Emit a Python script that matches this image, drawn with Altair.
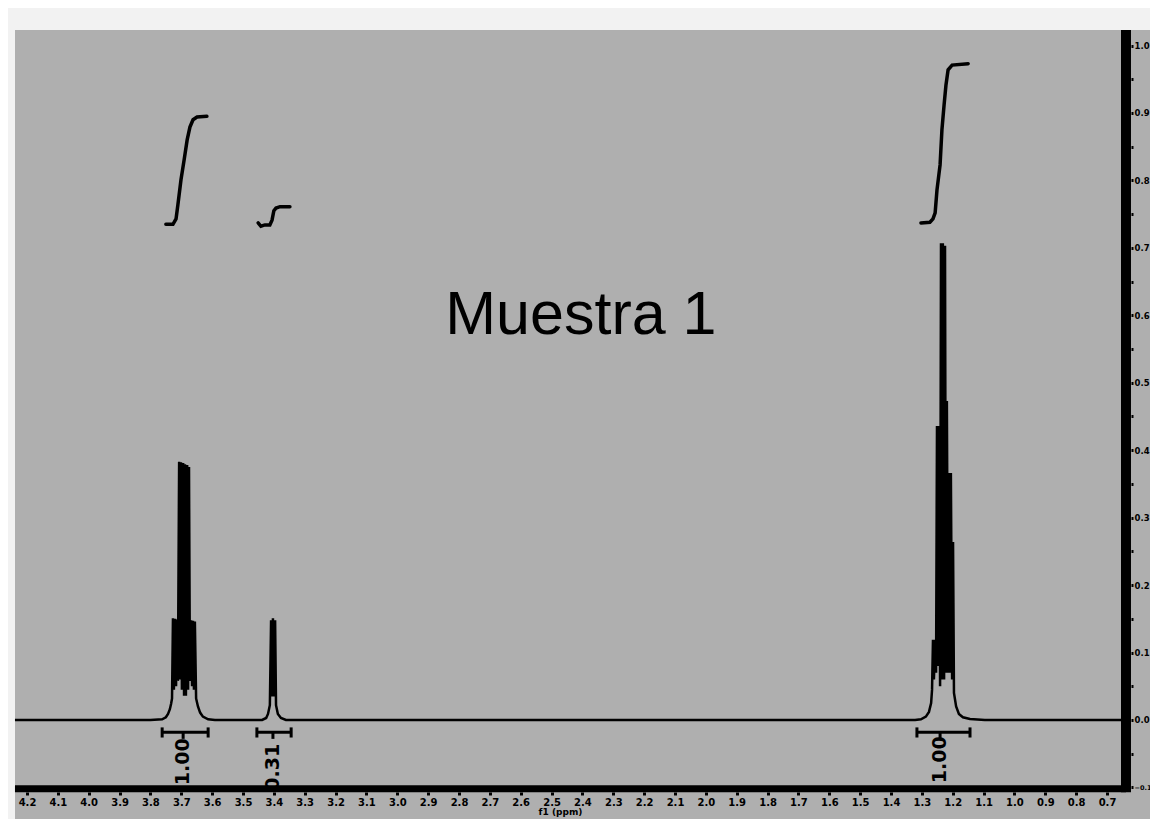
import altair as alt
import pandas as pd

# ---------------- data ----------------
# 1H spectrum trace: chemical shift (ppm) and intensity
spec_ppm = [4.239, 3.800, 3.762, 3.750, 3.743, 3.737, 3.733,
            3.730, 3.727, 3.724, 3.720, 3.717, 3.714, 3.711, 3.707, 3.704, 3.701,
            3.698, 3.694, 3.691, 3.688, 3.685, 3.681, 3.678, 3.675, 3.672, 3.668,
            3.665, 3.662, 3.659, 3.656, 3.652,
            3.646, 3.639, 3.630, 3.613, 3.591,
            3.438, 3.425, 3.419, 3.413, 3.409, 3.406, 3.403, 3.400, 3.396, 3.393,
            3.387, 3.377, 3.361,
            1.322, 1.303, 1.287, 1.277, 1.270, 1.267, 1.264, 1.261, 1.257, 1.254,
            1.251, 1.248, 1.244, 1.241, 1.238, 1.235, 1.232, 1.228, 1.225, 1.222,
            1.219, 1.215, 1.212, 1.209, 1.206, 1.202, 1.199, 1.196, 1.189, 1.180,
            1.167, 1.144, 1.096, 0.640]
spec_int = [0.0, 0.0, 0.001, 0.004, 0.009, 0.016, 0.024,
            0.032, 0.151, 0.045, 0.150, 0.050, 0.149, 0.058, 0.383, 0.060, 0.382,
            0.045, 0.381, 0.036, 0.379, 0.036, 0.378, 0.045, 0.375, 0.058, 0.148,
            0.050, 0.147, 0.045, 0.146, 0.032,
            0.020, 0.011, 0.005, 0.001, 0.0,
            0.0, 0.003, 0.009, 0.022, 0.148, 0.035, 0.151, 0.035, 0.148, 0.022,
            0.009, 0.003, 0.0,
            0.0, 0.001, 0.005, 0.012, 0.025, 0.045, 0.119, 0.060, 0.119, 0.070,
            0.436, 0.080, 0.436, 0.050, 0.707, 0.060, 0.707, 0.060, 0.703, 0.070,
            0.473, 0.070, 0.366, 0.070, 0.366, 0.060, 0.264, 0.040, 0.020, 0.009,
            0.004, 0.0015, 0.0, 0.0]

# integral curves
integral1_ppm = [3.750, 3.727, 3.717, 3.711, 3.701, 3.691, 3.681, 3.672, 3.662, 3.649, 3.617]
integral1_int = [0.735, 0.735, 0.743, 0.764, 0.801, 0.830, 0.860, 0.879, 0.890, 0.894, 0.895]
integral2_ppm = [3.451, 3.442, 3.429, 3.413, 3.406, 3.400, 3.393, 3.380, 3.348]
integral2_int = [0.737, 0.732, 0.734, 0.734, 0.741, 0.755, 0.759, 0.761, 0.761]
integral3_ppm = [1.303, 1.274, 1.264, 1.257, 1.251, 1.241, 1.235, 1.228, 1.222, 1.215, 1.202, 1.150]
integral3_int = [0.737, 0.738, 0.743, 0.752, 0.786, 0.823, 0.875, 0.912, 0.941, 0.964, 0.971, 0.973]

# integration regions and values
int_labels = ["1.00", "0.31", "1.00"]
int_start = [3.762, 3.455, 1.316]
int_end = [3.613, 3.344, 1.144]
int_center = [3.694, 3.403, 1.241]
int_label_y = [-0.062, -0.070, -0.059]

# axis tick labels
x_ticks = [4.2, 4.1, 4.0, 3.9, 3.8, 3.7, 3.6, 3.5, 3.4, 3.3, 3.2, 3.1, 3.0,
           2.9, 2.8, 2.7, 2.6, 2.5, 2.4, 2.3, 2.2, 2.1, 2.0, 1.9, 1.8, 1.7,
           1.6, 1.5, 1.4, 1.3, 1.2, 1.1, 1.0, 0.9, 0.8, 0.7]
y_ticks = [1.0, 0.95, 0.9, 0.85, 0.8, 0.75, 0.7, 0.65, 0.6, 0.55, 0.5, 0.45,
           0.4, 0.35, 0.3, 0.25, 0.2, 0.15, 0.1, 0.05, 0.0, -0.05, -0.1]

title_text = "Muestra 1"
x_title = "f1 (ppm)"

# ---------------- tables ----------------
df_spec = pd.DataFrame({"ppm": spec_ppm, "intensity": spec_int,
                        "idx": list(range(len(spec_ppm)))})

rows = []
for g, (xs_, ys_) in enumerate([(integral1_ppm, integral1_int),
                                (integral2_ppm, integral2_int),
                                (integral3_ppm, integral3_int)]):
    for i, (a, b) in enumerate(zip(xs_, ys_)):
        rows.append({"ppm": a, "intensity": b, "group": g, "idx": i})
df_integ = pd.DataFrame(rows)

df_reg = pd.DataFrame({"start": int_start, "end": int_end, "center": int_center,
                       "label": int_labels, "ly": int_label_y})
df_reg["bar_y"] = -0.018
df_reg["stem_lo"] = -0.028
df_caps = pd.DataFrame({"ppm": int_start + int_end})
df_caps["lo"] = -0.026
df_caps["hi"] = -0.011

df_title = pd.DataFrame({"ppm": [2.405], "intensity": [0.572], "t": [title_text]})

X_AXIS_LEVEL = -0.102
Y_AXIS_POS = 0.6385
df_xaxis = pd.DataFrame({"a": [4.239], "b": [Y_AXIS_POS], "y": [X_AXIS_LEVEL]})
df_yaxis = pd.DataFrame({"x": [Y_AXIS_POS], "lo": [-0.107], "hi": [1.023]})

# ---------------- scales / axes ----------------
xs = alt.Scale(domain=[0.5607, 4.2389], reverse=True, nice=False, zero=False)
ys = alt.Scale(domain=[-0.1468, 1.0230], nice=False, zero=False)

xaxis = alt.Axis(values=x_ticks, format=".1f", orient="bottom", offset=-27,
                 domain=False, grid=False, tickSize=3, tickWidth=3, tickColor="black",
                 labelColor="black", labelFont="DejaVu Sans", labelFontWeight="bold",
                 labelFontSize=10, labelPadding=2, labelFlush=False, labelOverlap=False,
                 title=x_title, titleFont="DejaVu Sans", titleFontSize=9,
                 titleFontWeight="bold", titleColor="black", titlePadding=0, titleX=545)
yaxis = alt.Axis(values=y_ticks, orient="right", offset=-19, domain=False, grid=False,
                 labelExpr="(abs(round(datum.value*100)) % 10 == 0) ? format(datum.value, '.1f') : ''",
                 tickSize=2, tickWidth=3, tickColor="black", labelColor="black",
                 labelFont="DejaVu Sans", labelFontWeight="bold",
                 labelFontSize={"condition": {"test": "datum.value < 0", "value": 6.5},
                                "value": 8.5},
                 labelPadding=1, labelFlush=False, labelOverlap=False, title=None)


def X(field):
    return alt.X(field, scale=xs, axis=xaxis)


def Y(field):
    return alt.Y(field, scale=ys, axis=yaxis)


spectrum = alt.Chart(df_spec).mark_line(color="black", strokeWidth=2.5).encode(
    x=X("ppm:Q"), y=Y("intensity:Q"), order="idx:Q",
)

integrals = alt.Chart(df_integ).mark_line(color="black", strokeWidth=3.5,
                                          strokeCap="round").encode(
    x=X("ppm:Q"), y=Y("intensity:Q"), detail="group:N", order="idx:Q",
)

bars = alt.Chart(df_reg).mark_rule(color="black", strokeWidth=3).encode(
    x=X("start:Q"), x2="end:Q", y=Y("bar_y:Q"),
)
stems = alt.Chart(df_reg).mark_rule(color="black", strokeWidth=3).encode(
    x=X("center:Q"), y=Y("bar_y:Q"), y2="stem_lo:Q",
)
caps = alt.Chart(df_caps).mark_rule(color="black", strokeWidth=3).encode(
    x=X("ppm:Q"), y=Y("lo:Q"), y2="hi:Q",
)
labels = alt.Chart(df_reg).mark_text(angle=270, font="DejaVu Sans", fontWeight="bold",
                                     fontSize=19, color="black", align="center",
                                     baseline="middle").encode(
    x=X("center:Q"), y=Y("ly:Q"), text="label:N",
)

title = alt.Chart(df_title).mark_text(font="Liberation Sans", fontSize=61, color="black",
                                      align="center", baseline="alphabetic").encode(
    x=X("ppm:Q"), y=Y("intensity:Q"), text="t:N",
)

xline = alt.Chart(df_xaxis).mark_rule(color="black", strokeWidth=7).encode(
    x=X("a:Q"), x2="b:Q", y=Y("y:Q"),
)
yline = alt.Chart(df_yaxis).mark_rule(color="black", strokeWidth=10).encode(
    x=X("x:Q"), y=Y("lo:Q"), y2="hi:Q",
)

chart = alt.layer(spectrum, integrals, bars, stems, caps, labels, title, xline, yline).properties(
    width=1135, height=789,
    background="#f2f2f2",
    padding={"left": 7, "top": 22, "right": 0, "bottom": 0},
    autosize=alt.AutoSizeParams(type="none"),
).configure_view(fill="#afafaf", strokeWidth=0)

chart.save("out.html", embed_options={"renderer": "svg", "actions": False})
